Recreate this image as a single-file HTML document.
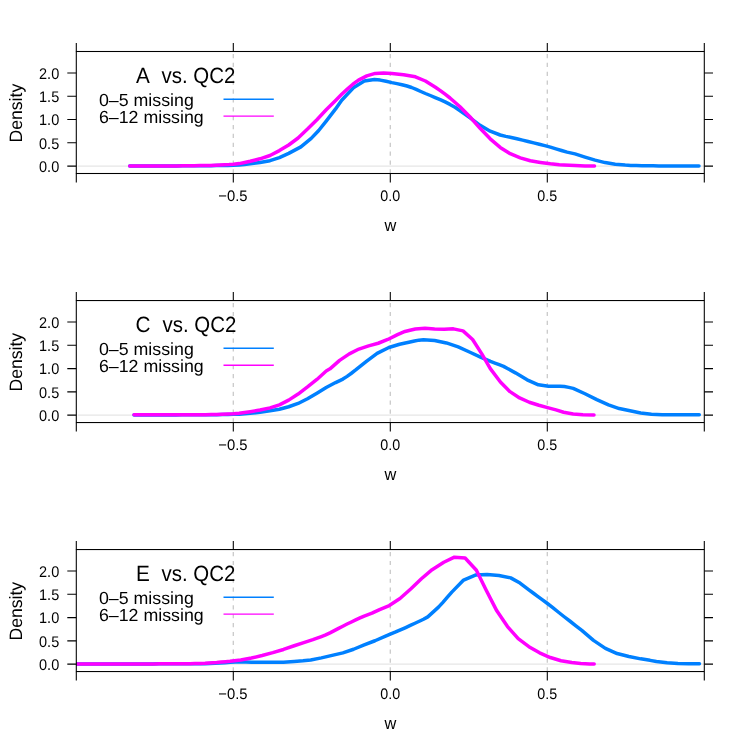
<!DOCTYPE html>
<html><head><meta charset="utf-8"><title>density</title>
<style>
html,body{margin:0;padding:0;background:#fff;}
svg{display:block;will-change:transform;}
text{font-family:"Liberation Sans",sans-serif;fill:#000;text-rendering:geometricPrecision;}
</style></head><body>
<svg width="747" height="747" viewBox="0 0 747 747">
<rect width="747" height="747" fill="#fff"/>
<g transform="translate(0,0.00)">
<clipPath id="c0"><rect x="76.3" y="51.5" width="628.0" height="122.0"/></clipPath>
<line x1="77.8" y1="166.1" x2="704.3" y2="166.1" stroke="#e6e6e6" stroke-width="1.1"/>
<line x1="233.25" y1="54.0" x2="233.25" y2="173.55" stroke="#bebebe" stroke-width="1.07" stroke-dasharray="4.2 4.67"/>
<line x1="390.25" y1="54.0" x2="390.25" y2="173.55" stroke="#bebebe" stroke-width="1.07" stroke-dasharray="4.2 4.67"/>
<line x1="547.25" y1="54.0" x2="547.25" y2="173.55" stroke="#bebebe" stroke-width="1.07" stroke-dasharray="4.2 4.67"/>
<g clip-path="url(#c0)" fill="none" stroke-width="3.5" stroke-linejoin="round" stroke-linecap="round">
<polyline points="129.7,165.9 135.6,165.9 141.4,165.9 147.3,165.9 153.1,165.9 159.0,165.9 164.8,165.9 170.7,165.9 176.6,165.9 182.4,165.8 188.3,165.8 194.1,165.8 200.0,165.8 205.6,165.8 211.2,165.7 216.8,165.6 222.3,165.5 227.9,165.4 233.5,165.2 239.1,164.9 244.6,164.4 250.2,163.8 260.0,162.4 270.0,160.7 279.4,157.6 288.7,153.4 300.9,146.9 311.2,138.4 318.7,130.5 326.2,121.1 335.6,108.9 341.7,100.2 353.4,87.7 364.3,81.0 374.4,79.6 380.2,80.1 386.1,81.3 391.9,82.6 396.9,83.6 402.0,84.7 407.0,86.0 411.6,87.5 416.2,89.4 420.8,91.5 425.4,93.5 430.3,95.5 435.2,97.6 440.2,99.7 445.1,101.9 450.0,104.4 455.0,107.3 460.1,110.7 465.1,114.2 470.1,117.8 480.1,125.3 490.2,131.2 500.2,135.0 505.8,136.4 511.3,137.5 516.9,138.7 522.5,140.1 528.1,141.5 533.7,142.9 539.3,144.3 544.8,145.6 550.4,147.1 556.0,148.8 561.5,150.5 567.1,152.1 575.0,153.9 585.0,157.1 595.1,160.1 605.1,162.6 615.2,164.3 625.2,165.1 630.8,165.4 636.3,165.6 641.9,165.7 647.5,165.8 653.1,165.8 658.8,165.9 664.4,165.9 670.0,165.9 675.8,166.0 681.6,166.0 687.4,166.0 693.2,166.0 699.0,166.0" stroke="#0080ff"/>
<polyline points="129.7,166.0 134.8,166.0 139.8,166.0 144.8,166.0 149.9,166.0 154.9,166.0 160.0,165.9 165.7,165.9 171.4,165.9 177.1,165.9 182.9,165.8 188.6,165.7 194.3,165.7 200.0,165.6 205.0,165.5 210.0,165.4 215.0,165.2 220.0,165.0 224.5,164.8 229.0,164.6 233.5,164.3 239.1,163.6 244.6,162.5 250.2,161.3 260.0,158.8 270.0,155.5 279.4,150.6 288.7,145.0 298.1,138.0 307.5,129.1 316.9,119.7 326.2,109.8 335.6,100.4 341.7,94.3 347.3,89.1 352.9,84.2 358.5,80.1 366.8,75.9 375.2,73.4 383.6,72.9 391.9,73.4 403.6,74.8 415.4,76.8 425.4,81.0 435.4,87.2 440.3,90.6 445.1,94.2 450.0,98.0 460.0,106.8 470.1,117.0 480.1,128.3 490.2,138.8 500.2,147.4 510.2,153.7 520.3,157.9 530.3,160.8 540.4,162.4 550.4,163.8 554.9,164.3 559.3,164.8 563.8,165.1 575.0,165.6 585.0,165.9 594.5,166.0" stroke="#ff00ff"/>
</g>
<rect x="76.3" y="51.5" width="628.0" height="122.0" fill="none" stroke="#000" stroke-width="1.07"/>
<path d="M76.3 51.5V42.9M76.3 173.6V182.5M233.3 51.5V42.9M233.3 173.6V182.5M390.3 51.5V42.9M390.3 173.6V182.5M547.3 51.5V42.9M547.3 173.6V182.5M704.3 51.5V42.9M704.3 173.6V182.5M76.3 166.10H67.3M704.3 166.10H713.0M76.3 142.82H67.3M704.3 142.82H713.0M76.3 119.55H67.3M704.3 119.55H713.0M76.3 96.28H67.3M704.3 96.28H713.0M76.3 73.00H67.3M704.3 73.00H713.0" fill="none" stroke="#000" stroke-width="1.07"/>
<text transform="translate(59.20,171.90) scale(1.015,1.080)" font-size="14.30" text-anchor="end">0.0</text>
<text transform="translate(59.20,148.62) scale(1.015,1.080)" font-size="14.30" text-anchor="end">0.5</text>
<text transform="translate(59.20,125.35) scale(1.015,1.080)" font-size="14.30" text-anchor="end">1.0</text>
<text transform="translate(59.20,102.08) scale(1.015,1.080)" font-size="14.30" text-anchor="end">1.5</text>
<text transform="translate(59.20,78.80) scale(1.015,1.080)" font-size="14.30" text-anchor="end">2.0</text>
<text transform="translate(232.90,201.30) scale(1.035,1.065)" font-size="14.30" text-anchor="middle">−0.5</text>
<text transform="translate(390.20,201.30) scale(1.000,1.065)" font-size="14.30" text-anchor="middle">0.0</text>
<text transform="translate(547.20,201.30) scale(1.000,1.065)" font-size="14.30" text-anchor="middle">0.5</text>
<text transform="translate(390.30,230.70) scale(0.930,0.980)" font-size="17.60" text-anchor="middle">w</text>
<text transform="translate(21.50,113.15) rotate(-90) scale(1.000,1.020)" font-size="17.60" text-anchor="middle">Density</text>
<text transform="translate(136.00,82.70) scale(1.011,1.075)" font-size="20.50" text-anchor="start">A</text>
<text transform="translate(150.10,82.70) scale(0.997,1.075)" font-size="20.50" text-anchor="start" xml:space="preserve">  vs. QC2</text>
<text transform="translate(98.90,105.65) scale(1.105,1.085)" font-size="16.10" text-anchor="start">0–5 missing</text>
<text transform="translate(98.90,122.55) scale(1.105,1.085)" font-size="16.10" text-anchor="start">6–12 missing</text>
<line x1="223.5" y1="99.2" x2="273.8" y2="99.2" stroke="#0080ff" stroke-width="1.45"/>
<line x1="223.5" y1="116.1" x2="273.8" y2="116.1" stroke="#ff00ff" stroke-width="1.45"/>
</g>
<g transform="translate(0,249.05)">
<clipPath id="c1"><rect x="76.3" y="51.5" width="628.0" height="122.0"/></clipPath>
<line x1="77.8" y1="166.1" x2="704.3" y2="166.1" stroke="#e6e6e6" stroke-width="1.1"/>
<line x1="233.25" y1="54.0" x2="233.25" y2="173.55" stroke="#bebebe" stroke-width="1.07" stroke-dasharray="4.2 4.67"/>
<line x1="390.25" y1="54.0" x2="390.25" y2="173.55" stroke="#bebebe" stroke-width="1.07" stroke-dasharray="4.2 4.67"/>
<line x1="547.25" y1="54.0" x2="547.25" y2="173.55" stroke="#bebebe" stroke-width="1.07" stroke-dasharray="4.2 4.67"/>
<g clip-path="url(#c1)" fill="none" stroke-width="3.5" stroke-linejoin="round" stroke-linecap="round">
<polyline points="134.0,165.9 140.0,165.9 146.0,165.9 152.0,165.9 158.0,165.9 164.0,165.9 170.0,165.9 176.0,165.9 182.0,165.8 188.0,165.8 194.0,165.8 200.0,165.8 205.6,165.8 211.2,165.7 216.8,165.6 222.3,165.5 227.9,165.4 233.5,165.3 239.1,165.1 244.6,164.7 250.2,164.3 260.0,163.2 270.0,161.8 279.4,160.2 288.7,157.7 298.1,154.4 307.5,149.7 316.9,144.1 326.2,138.4 335.6,133.5 342.9,130.0 347.1,127.3 351.4,124.2 355.7,120.9 366.4,112.3 377.1,104.3 388.9,98.4 399.6,95.2 410.0,92.9 414.5,92.0 418.9,91.1 423.4,90.7 434.6,91.5 446.4,93.9 458.2,97.9 470.0,103.2 480.5,108.0 490.5,112.4 494.9,114.0 499.2,115.6 503.6,117.3 515.4,123.8 527.1,130.8 538.4,135.8 548.5,137.2 560.0,137.2 564.4,137.5 568.8,138.3 573.2,139.3 585.0,144.7 596.8,150.6 608.5,155.9 619.2,159.5 630.0,161.7 640.7,163.9 651.4,165.1 662.1,165.6 674.0,165.8 678.7,165.8 683.3,165.8 688.0,165.8 699.3,165.8" stroke="#0080ff"/>
<polyline points="134.0,165.8 140.0,165.8 146.0,165.8 152.0,165.8 158.0,165.8 164.0,165.8 170.0,165.8 176.0,165.8 182.0,165.8 188.0,165.8 194.0,165.7 200.0,165.7 205.6,165.6 211.2,165.5 216.8,165.4 222.3,165.1 227.9,164.9 233.5,164.6 239.1,164.1 244.6,163.4 250.2,162.6 260.0,161.0 270.0,158.8 279.4,155.8 288.7,151.1 298.1,145.0 307.5,137.9 316.9,130.4 326.2,122.0 330.0,119.8 339.6,111.3 349.3,104.8 358.9,100.0 368.6,96.8 378.2,94.2 387.8,90.4 397.5,85.6 405.0,82.4 410.0,81.2 415.4,80.0 425.0,79.3 434.6,80.0 444.3,80.2 453.4,79.8 463.0,81.8 472.6,90.4 481.8,104.8 490.3,119.6 500.4,132.9 510.0,142.6 519.6,148.9 529.3,153.2 538.9,156.2 548.5,158.8 556.0,160.8 563.6,163.2 573.2,165.0 582.9,165.8 594.0,166.0" stroke="#ff00ff"/>
</g>
<rect x="76.3" y="51.5" width="628.0" height="122.0" fill="none" stroke="#000" stroke-width="1.07"/>
<path d="M76.3 51.5V42.9M76.3 173.6V182.5M233.3 51.5V42.9M233.3 173.6V182.5M390.3 51.5V42.9M390.3 173.6V182.5M547.3 51.5V42.9M547.3 173.6V182.5M704.3 51.5V42.9M704.3 173.6V182.5M76.3 166.10H67.3M704.3 166.10H713.0M76.3 142.82H67.3M704.3 142.82H713.0M76.3 119.55H67.3M704.3 119.55H713.0M76.3 96.28H67.3M704.3 96.28H713.0M76.3 73.00H67.3M704.3 73.00H713.0" fill="none" stroke="#000" stroke-width="1.07"/>
<text transform="translate(59.20,171.90) scale(1.015,1.080)" font-size="14.30" text-anchor="end">0.0</text>
<text transform="translate(59.20,148.62) scale(1.015,1.080)" font-size="14.30" text-anchor="end">0.5</text>
<text transform="translate(59.20,125.35) scale(1.015,1.080)" font-size="14.30" text-anchor="end">1.0</text>
<text transform="translate(59.20,102.08) scale(1.015,1.080)" font-size="14.30" text-anchor="end">1.5</text>
<text transform="translate(59.20,78.80) scale(1.015,1.080)" font-size="14.30" text-anchor="end">2.0</text>
<text transform="translate(232.90,201.30) scale(1.035,1.065)" font-size="14.30" text-anchor="middle">−0.5</text>
<text transform="translate(390.20,201.30) scale(1.000,1.065)" font-size="14.30" text-anchor="middle">0.0</text>
<text transform="translate(547.20,201.30) scale(1.000,1.065)" font-size="14.30" text-anchor="middle">0.5</text>
<text transform="translate(390.30,230.70) scale(0.930,0.980)" font-size="17.60" text-anchor="middle">w</text>
<text transform="translate(21.50,113.15) rotate(-90) scale(1.000,1.020)" font-size="17.60" text-anchor="middle">Density</text>
<text transform="translate(135.60,82.70) scale(1.011,1.075)" font-size="20.50" text-anchor="start">C</text>
<text transform="translate(151.10,82.70) scale(0.997,1.075)" font-size="20.50" text-anchor="start" xml:space="preserve">  vs. QC2</text>
<text transform="translate(98.90,105.65) scale(1.105,1.085)" font-size="16.10" text-anchor="start">0–5 missing</text>
<text transform="translate(98.90,122.55) scale(1.105,1.085)" font-size="16.10" text-anchor="start">6–12 missing</text>
<line x1="223.5" y1="99.2" x2="273.8" y2="99.2" stroke="#0080ff" stroke-width="1.45"/>
<line x1="223.5" y1="116.1" x2="273.8" y2="116.1" stroke="#ff00ff" stroke-width="1.45"/>
</g>
<g transform="translate(0,498.05)">
<clipPath id="c2"><rect x="76.3" y="51.5" width="628.0" height="122.0"/></clipPath>
<line x1="77.8" y1="166.1" x2="704.3" y2="166.1" stroke="#e6e6e6" stroke-width="1.1"/>
<line x1="233.25" y1="54.0" x2="233.25" y2="173.55" stroke="#bebebe" stroke-width="1.07" stroke-dasharray="4.2 4.67"/>
<line x1="390.25" y1="54.0" x2="390.25" y2="173.55" stroke="#bebebe" stroke-width="1.07" stroke-dasharray="4.2 4.67"/>
<line x1="547.25" y1="54.0" x2="547.25" y2="173.55" stroke="#bebebe" stroke-width="1.07" stroke-dasharray="4.2 4.67"/>
<g clip-path="url(#c2)" fill="none" stroke-width="3.5" stroke-linejoin="round" stroke-linecap="round">
<polyline points="69.6,165.9 75.5,165.9 81.5,165.9 87.4,165.9 93.3,165.9 99.2,165.9 105.2,165.9 111.1,165.9 117.0,165.9 122.9,165.9 128.9,165.9 134.8,165.9 140.7,165.9 146.7,165.9 152.6,165.9 158.5,165.8 164.4,165.8 170.4,165.8 176.3,165.8 182.2,165.8 188.1,165.8 194.1,165.7 200.0,165.7 205.0,165.6 210.0,165.4 215.0,165.2 220.0,164.9 225.0,164.6 230.2,164.2 235.5,163.9 240.7,163.7 251.4,164.1 262.1,164.3 272.8,164.3 283.5,164.1 294.2,163.4 303.0,162.7 310.7,161.9 321.4,159.8 332.1,157.3 342.9,154.8 353.6,151.2 364.2,146.9 375.0,142.7 385.0,138.4 390.3,136.1 395.7,133.9 401.0,131.6 405.7,129.5 410.3,127.4 415.0,125.2 419.3,123.2 423.5,121.2 427.8,118.8 438.5,109.1 442.9,104.3 447.4,99.1 451.8,94.1 463.6,82.0 475.4,77.0 487.1,76.5 498.9,77.5 510.7,79.8 520.0,85.0 528.9,91.8 533.5,95.2 538.0,98.5 542.5,101.8 547.1,105.2 552.8,109.6 558.5,114.2 564.2,118.7 570.1,123.2 575.9,127.8 581.8,132.4 593.5,142.3 605.4,150.3 617.1,155.5 628.9,158.4 640.7,160.8 650.0,162.3 656.4,163.5 667.1,164.8 677.9,165.4 688.5,165.7 699.5,165.8" stroke="#0080ff"/>
<polyline points="69.6,165.9 75.2,165.9 80.9,165.9 86.5,165.9 92.2,165.9 97.8,165.9 103.5,165.9 109.2,165.9 114.8,165.9 120.4,165.9 126.1,165.9 131.8,165.9 137.4,165.9 143.1,165.9 148.7,165.9 154.3,165.9 160.0,165.8 166.0,165.8 172.0,165.8 178.0,165.7 184.0,165.7 190.0,165.6 195.0,165.5 200.0,165.4 205.0,165.2 216.7,164.4 221.1,164.0 225.6,163.6 230.0,163.2 240.7,161.9 251.4,160.0 262.1,157.5 272.8,154.6 283.5,151.4 294.2,147.7 303.0,144.8 312.9,141.6 317.1,140.1 321.4,138.5 325.7,136.8 330.0,134.8 334.3,132.6 338.6,130.3 342.8,128.2 347.1,126.0 351.4,123.9 355.7,121.9 360.0,119.9 364.2,118.0 372.0,115.1 379.6,111.5 389.3,107.5 400.0,100.5 410.7,90.9 421.4,80.7 432.1,71.6 443.8,64.2 454.4,59.1 465.1,59.9 476.4,72.2 486.1,92.0 496.8,112.8 507.5,128.5 518.2,140.6 528.9,148.6 539.6,154.8 550.3,159.5 561.0,162.7 571.8,164.5 580.7,165.5 585.2,165.7 589.7,165.9 594.2,166.0" stroke="#ff00ff"/>
</g>
<rect x="76.3" y="51.5" width="628.0" height="122.0" fill="none" stroke="#000" stroke-width="1.07"/>
<path d="M76.3 51.5V42.9M76.3 173.6V182.5M233.3 51.5V42.9M233.3 173.6V182.5M390.3 51.5V42.9M390.3 173.6V182.5M547.3 51.5V42.9M547.3 173.6V182.5M704.3 51.5V42.9M704.3 173.6V182.5M76.3 166.10H67.3M704.3 166.10H713.0M76.3 142.82H67.3M704.3 142.82H713.0M76.3 119.55H67.3M704.3 119.55H713.0M76.3 96.28H67.3M704.3 96.28H713.0M76.3 73.00H67.3M704.3 73.00H713.0" fill="none" stroke="#000" stroke-width="1.07"/>
<text transform="translate(59.20,171.90) scale(1.015,1.080)" font-size="14.30" text-anchor="end">0.0</text>
<text transform="translate(59.20,148.62) scale(1.015,1.080)" font-size="14.30" text-anchor="end">0.5</text>
<text transform="translate(59.20,125.35) scale(1.015,1.080)" font-size="14.30" text-anchor="end">1.0</text>
<text transform="translate(59.20,102.08) scale(1.015,1.080)" font-size="14.30" text-anchor="end">1.5</text>
<text transform="translate(59.20,78.80) scale(1.015,1.080)" font-size="14.30" text-anchor="end">2.0</text>
<text transform="translate(232.90,201.30) scale(1.035,1.065)" font-size="14.30" text-anchor="middle">−0.5</text>
<text transform="translate(390.20,201.30) scale(1.000,1.065)" font-size="14.30" text-anchor="middle">0.0</text>
<text transform="translate(547.20,201.30) scale(1.000,1.065)" font-size="14.30" text-anchor="middle">0.5</text>
<text transform="translate(390.30,230.70) scale(0.930,0.980)" font-size="17.60" text-anchor="middle">w</text>
<text transform="translate(21.50,113.15) rotate(-90) scale(1.000,1.020)" font-size="17.60" text-anchor="middle">Density</text>
<text transform="translate(136.00,82.70) scale(1.011,1.075)" font-size="20.50" text-anchor="start">E</text>
<text transform="translate(150.10,82.70) scale(0.997,1.075)" font-size="20.50" text-anchor="start" xml:space="preserve">  vs. QC2</text>
<text transform="translate(98.90,105.65) scale(1.105,1.085)" font-size="16.10" text-anchor="start">0–5 missing</text>
<text transform="translate(98.90,122.55) scale(1.105,1.085)" font-size="16.10" text-anchor="start">6–12 missing</text>
<line x1="223.5" y1="99.2" x2="273.8" y2="99.2" stroke="#0080ff" stroke-width="1.45"/>
<line x1="223.5" y1="116.1" x2="273.8" y2="116.1" stroke="#ff00ff" stroke-width="1.45"/>
</g>
</svg>
</body></html>
